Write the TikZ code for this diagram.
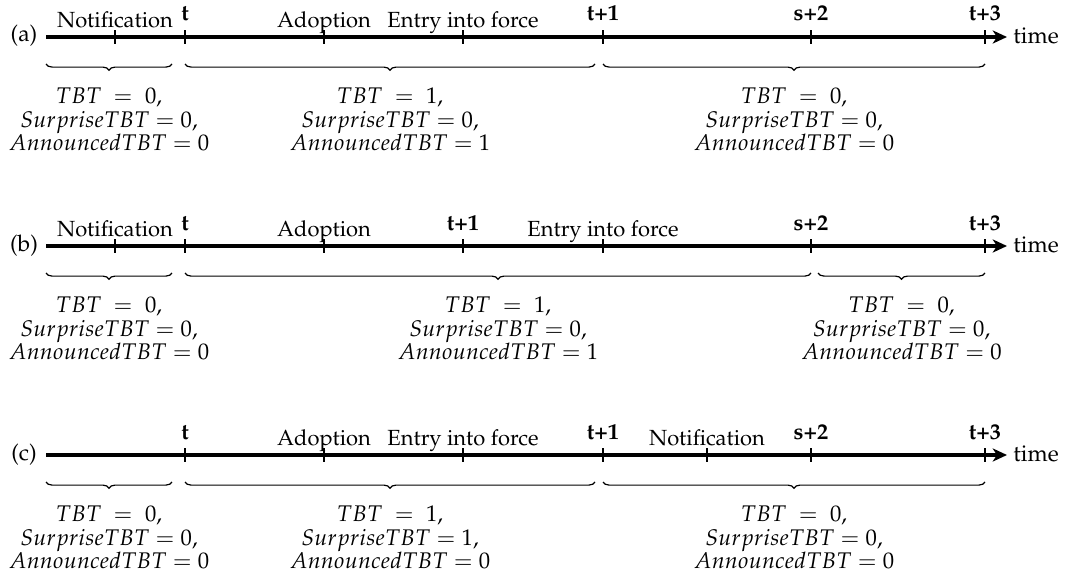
\documentclass[tikz,border=0pt]{standalone}
\usepackage[T1]{fontenc}
\usepackage{mathpazo}
\usetikzlibrary{decorations.pathreplacing,arrows.meta}
\tikzset{
  axisline/.style={line width=1.3pt,-{Stealth[length=6pt,width=5.5pt,inset=1.8pt]}},
  tickline/.style={line width=0.45pt},
  evlabel/.style={anchor=base,inner sep=0pt,font=\fontsize{9.2}{11}\selectfont},
  perlabel/.style={anchor=base,inner sep=0pt,font=\fontsize{9.4}{11}\selectfont\bfseries},
  rowlabel/.style={anchor=base,inner sep=0pt,font=\fontsize{9.6}{11}\selectfont},
  bracepath/.style={decorate,decoration={brace,mirror,amplitude=2.6pt},line width=0.5pt},
  valline/.style={anchor=base,inner sep=0pt,font=\fontsize{9.5}{11}\selectfont},
}
\newcommand\tickat[2]{\draw[tickline] (#1,#2-7) -- (#1,#2+7);}
\newcommand\valblock[6]{% name, x, y0, v1, v2, v3
  \node[valline] (#1a) at (#2,#3+66) {$TBT\;=\;#4,$};
  \node[valline] (#1b) at (#2,#3+90) {$SurpriseTBT = #5,$};
  \node[valline] (#1c) at (#2,#3+113) {$AnnouncedTBT = #6$};
}
\begin{document}
\begin{tikzpicture}[x=0.42pt,y=-0.42pt]
\useasboundingbox (0,0) rectangle (1078,579);
% ---------------- (a)
\def\yy{37}
\coordinate (aS) at (46,\yy); \coordinate (aE) at (1007,\yy);
\draw[axisline] (aS) -- (aE);
\node[rowlabel] (aL) at (24,\yy+5) {(a)};
\node[rowlabel,anchor=base west] (aTime) at (1013,\yy+6) {time};
\foreach \x in {115,185,324,463,603,811,985} {\tickat{\x}{\yy}}
\node[evlabel] (aN) at (115,\yy-10) {Notification};
\node[perlabel] (at0) at (185,\yy-16) {t};
\node[evlabel] (aA) at (324,\yy-10) {Adoption};
\node[evlabel] (aF) at (463,\yy-10) {Entry into force};
\node[perlabel] (at1) at (603,\yy-16) {t+1};
\node[perlabel] (as2) at (811,\yy-16) {s+2};
\node[perlabel] (at3) at (985,\yy-16) {t+3};
\coordinate (ab1s) at (46,\yy+27); \coordinate (ab1e) at (172,\yy+27);
\coordinate (ab2s) at (185,\yy+27); \coordinate (ab2e) at (595,\yy+27);
\coordinate (ab3s) at (603,\yy+27); \coordinate (ab3e) at (985,\yy+27);
\draw[bracepath] (ab1s) -- (ab1e);
\draw[bracepath] (ab2s) -- (ab2e);
\draw[bracepath] (ab3s) -- (ab3e);
\valblock{av1}{109}{\yy}{0}{0}{0}
\valblock{av2}{390}{\yy}{1}{0}{1}
\valblock{av3}{794}{\yy}{0}{0}{0}
% ---------------- (b)
\def\yy{246}
\coordinate (bS) at (46,\yy); \coordinate (bE) at (1007,\yy);
\draw[axisline] (bS) -- (bE);
\node[rowlabel] (bL) at (24,\yy+5) {(b)};
\node[rowlabel,anchor=base west] (bTime) at (1013,\yy+6) {time};
\foreach \x in {115,185,324,463,603,811,985} {\tickat{\x}{\yy}}
\node[evlabel] (bN) at (115,\yy-10) {Notification};
\node[perlabel] (bt0) at (185,\yy-16) {t};
\node[evlabel] (bA) at (324,\yy-10) {Adoption};
\node[perlabel] (bt1) at (463,\yy-16) {t+1};
\node[evlabel] (bF) at (603,\yy-10) {Entry into force};
\node[perlabel] (bs2) at (811,\yy-16) {s+2};
\node[perlabel] (bt3) at (985,\yy-16) {t+3};
\coordinate (bb1s) at (46,\yy+27); \coordinate (bb1e) at (172,\yy+27);
\coordinate (bb2s) at (185,\yy+27); \coordinate (bb2e) at (811,\yy+27);
\coordinate (bb3s) at (818,\yy+27); \coordinate (bb3e) at (985,\yy+27);
\draw[bracepath] (bb1s) -- (bb1e);
\draw[bracepath] (bb2s) -- (bb2e);
\draw[bracepath] (bb3s) -- (bb3e);
\valblock{bv1}{109}{\yy}{0}{0}{0}
\valblock{bv2}{498}{\yy}{1}{0}{1}
\valblock{bv3}{901.5}{\yy}{0}{0}{0}
% ---------------- (c)
\def\yy{455}
\coordinate (cS) at (46,\yy); \coordinate (cE) at (1007,\yy);
\draw[axisline] (cS) -- (cE);
\node[rowlabel] (cL) at (24,\yy+5) {(c)};
\node[rowlabel,anchor=base west] (cTime) at (1013,\yy+6) {time};
\foreach \x in {185,324,463,603,707,811,985} {\tickat{\x}{\yy}}
\node[perlabel] (ct0) at (185,\yy-16) {t};
\node[evlabel] (cA) at (324,\yy-10) {Adoption};
\node[evlabel] (cF) at (463,\yy-10) {Entry into force};
\node[perlabel] (ct1) at (603,\yy-16) {t+1};
\node[evlabel] (cN) at (707,\yy-10) {Notification};
\node[perlabel] (cs2) at (811,\yy-16) {s+2};
\node[perlabel] (ct3) at (985,\yy-16) {t+3};
\coordinate (cb1s) at (46,\yy+27); \coordinate (cb1e) at (172,\yy+27);
\coordinate (cb2s) at (185,\yy+27); \coordinate (cb2e) at (595,\yy+27);
\coordinate (cb3s) at (603,\yy+27); \coordinate (cb3e) at (985,\yy+27);
\draw[bracepath] (cb1s) -- (cb1e);
\draw[bracepath] (cb2s) -- (cb2e);
\draw[bracepath] (cb3s) -- (cb3e);
\valblock{cv1}{109}{\yy}{0}{0}{0}
\valblock{cv2}{390}{\yy}{1}{1}{0}
\valblock{cv3}{794}{\yy}{0}{0}{0}
\end{tikzpicture}
\end{document}
